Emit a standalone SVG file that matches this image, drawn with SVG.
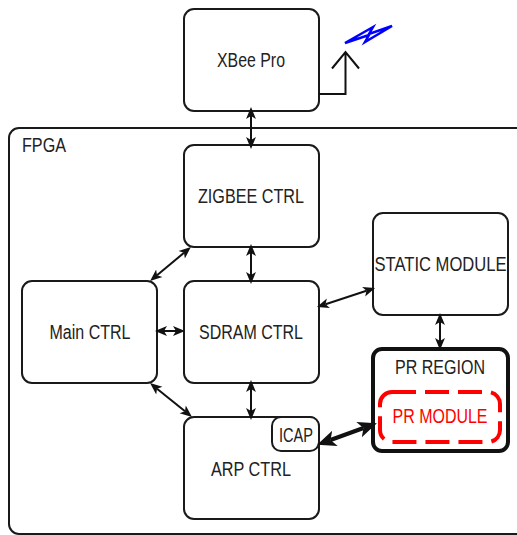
<svg xmlns="http://www.w3.org/2000/svg" width="517" height="535" viewBox="0 0 517 535">
<style>
.b{fill:#fff;stroke:#1a1a1a;stroke-width:2}
text{font-family:"Liberation Sans",Arial,sans-serif;font-size:20px;fill:#222;text-anchor:middle}
.c{fill:none;stroke:#111;stroke-width:2}
</style>
<defs>
<marker id="a" viewBox="0 0 10 10" refX="2.500" refY="5" markerWidth="19" markerHeight="18" markerUnits="userSpaceOnUse" orient="auto-start-reverse" preserveAspectRatio="none"><path d="M0 0.5L10 5L0 9.5L2.500 5Z" fill="#111"/></marker>
<marker id="l" viewBox="0 0 10 10" refX="2.500" refY="5" markerWidth="12" markerHeight="11" markerUnits="userSpaceOnUse" orient="auto-start-reverse" preserveAspectRatio="none"><path d="M0 0.5L10 5L0 9.5L2.500 5Z" fill="#111"/></marker>
</defs>
<rect width="517" height="535" fill="#fff"/>
<g id="fpga"><path fill="#fff" stroke="#1a1a1a" stroke-width="2" d="M517 128H19a10 10 0 0 0-10 10V524a10 10 0 0 0 10 10H517"/><text x="44" y="152" textLength="44" lengthAdjust="spacingAndGlyphs">FPGA</text></g>
<g id="xbee"><rect class="b" x="184" y="9" width="135" height="102" rx="10"/><text x="251" y="67" textLength="68" lengthAdjust="spacingAndGlyphs">XBee Pro</text></g>
<g id="zigbee"><rect class="b" x="184" y="145" width="135" height="102" rx="10"/><text x="251" y="203" textLength="106" lengthAdjust="spacingAndGlyphs">ZIGBEE CTRL</text></g>
<g id="sdram"><rect class="b" x="184" y="281" width="135" height="102" rx="10"/><text x="251" y="339" textLength="104" lengthAdjust="spacingAndGlyphs">SDRAM CTRL</text></g>
<g id="main"><rect class="b" x="22" y="281" width="135" height="102" rx="10"/><text x="90" y="339" textLength="81" lengthAdjust="spacingAndGlyphs">Main CTRL</text></g>
<g id="arp"><rect class="b" x="184" y="417" width="135" height="102" rx="10"/><text x="251" y="476" textLength="80" lengthAdjust="spacingAndGlyphs">ARP CTRL</text></g>
<g id="icap"><rect class="b" x="272" y="417" width="47" height="34" rx="9"/><text x="296" y="442" textLength="34" lengthAdjust="spacingAndGlyphs">ICAP</text></g>
<g id="static"><rect class="b" x="373" y="213" width="135" height="102" rx="10"/><text transform="translate(440.500 271) scale(.83 1)">STATIC MODULE</text></g>
<g id="pr-region"><rect x="373" y="349" width="135" height="102" rx="9" fill="#fff" stroke="#111" stroke-width="4"/><text x="440" y="374" textLength="90" lengthAdjust="spacingAndGlyphs">PR REGION</text></g>
<g id="pr-module"><rect x="380" y="392" width="120" height="50" rx="12" fill="none" stroke="#f00" stroke-width="4" stroke-dasharray="24 9"/><text x="440" y="423" textLength="95" lengthAdjust="spacingAndGlyphs" style="fill:#f00">PR MODULE</text></g>
<g id="antenna"><path class="c" d="M319 94H345.500V52M332 68.500L345.500 52L359 68.500"/><path d="M345 43L373 27L369 34L392 26L365 42L369 35Z" fill="none" stroke="#00f" stroke-width="2.500"/></g>
<g id="connectors">
<path class="c" marker-start="url(#l)" marker-end="url(#l)" d="M251 116V140"/>
<path class="c" marker-start="url(#l)" marker-end="url(#l)" d="M251 253V275"/>
<path class="c" marker-start="url(#l)" marker-end="url(#l)" d="M251 389V411"/>
<path class="c" marker-start="url(#l)" marker-end="url(#l)" d="M164 331H176"/>
<path class="c" marker-start="url(#l)" marker-end="url(#l)" d="M157 275.200L184 252.800"/>
<path class="c" marker-start="url(#l)" marker-end="url(#l)" d="M157 388.700L185 411.300"/>
<path class="c" marker-start="url(#l)" marker-end="url(#l)" d="M325.500 304.200L366.500 290.800"/>
<path class="c" marker-start="url(#l)" marker-end="url(#l)" d="M440 322V341"/>
<path fill="none" stroke="#111" stroke-width="4" marker-start="url(#a)" marker-end="url(#a)" d="M330.500 440L363.500 428"/>
</g>
</svg>
